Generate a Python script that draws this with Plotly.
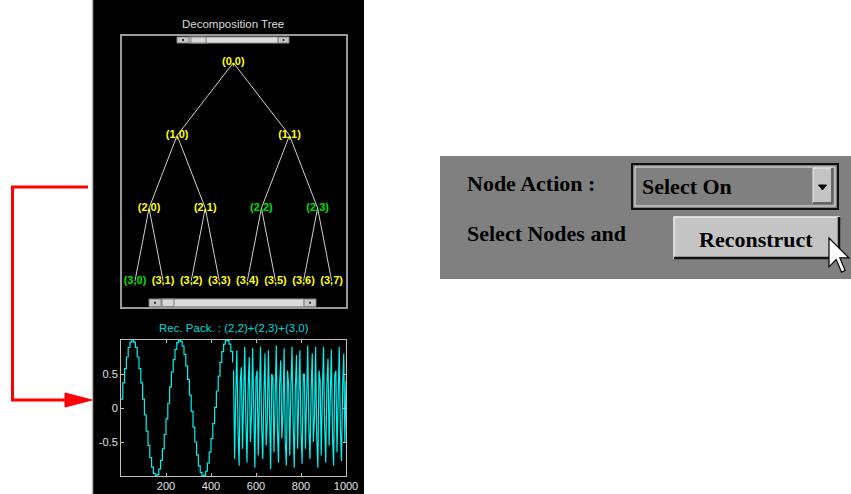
import plotly.graph_objects as go

W, H = 851, 494

# ---- data ----
depth = 3
selected_nodes = [(2, 2), (2, 3), (3, 0)]
panel_title = "Decomposition Tree"
rec_title = "Rec. Pack. : (2,2)+(2,3)+(3,0)"

# low frequency part (blocks of 8 samples)
low_x = list(range(0, 504, 8))
low_y = [0.13, 0.37, 0.58, 0.75, 0.89, 0.97, 1.0, 0.97, 0.89, 0.75, 0.58, 0.37,
         0.13, -0.1, -0.34, -0.55, -0.73, -0.87, -0.96, -1.0, -0.98, -0.9,
         -0.77, -0.6, -0.39, -0.16, 0.07, 0.31, 0.53, 0.71, 0.86, 0.96, 1.0,
         0.98, 0.91, 0.79, 0.62, 0.42, 0.19, -0.05, -0.28, -0.5, -0.69, -0.85,
         -0.95, -1.0, -0.99, -0.93, -0.81, -0.65, -0.45, -0.23, 0.01, 0.25,
         0.47, 0.67, 0.83, 0.94, 0.99, 0.99, 0.94, 0.83, 0.67]

# high frequency part
high_x = list(range(500, 1005, 5))
high_y = [0.55, -0.75, 0.2, 0.85, -0.3, -0.85, 0.4, 0.6, -0.6, 0.1, 0.9, -0.2,
          -0.8, 0.3, 0.75, -0.5, -0.1, 0.88, -0.35, -0.88, 0.45, 0.55, -0.7,
          0.05, 0.9, -0.25, -0.75, 0.2, 0.8, -0.55, -0.2, 0.85, -0.4, -0.9,
          0.5, 0.45, -0.65, 0.15, 0.92, -0.3, -0.8, 0.35, 0.7, -0.45, -0.05,
          0.88, -0.5, -0.85, 0.55, 0.35, -0.7, 0.25, 0.9, -0.2, -0.88, 0.3,
          0.78, -0.6, 0.0, 0.85, -0.35, -0.82, 0.5, 0.5, -0.6, 0.1, 0.92,
          -0.3, -0.75, 0.25, 0.8, -0.5, -0.15, 0.9, -0.45, -0.88, 0.55, 0.4,
          -0.7, 0.2, 0.9, -0.25, -0.8, 0.35, 0.72, -0.55, 0.05, 0.86, -0.4,
          -0.85, 0.48, 0.55, -0.65, 0.15, 0.9, -0.3, -0.78, 0.3, 0.8, -0.5, 0.4]

x_ticks = [200, 400, 600, 800, 1000]
y_ticks = [-0.5, 0, 0.5]
y_ticktext = ["-0.5", "0", "0.5"]


def px(x):
    return x / W


def py(y):
    return 1 - y / H


def rect(x0, y0, x1, y1, fill=None, line="rgba(0,0,0,0)", lw=1, layer="above"):
    return dict(type="rect", xref="paper", yref="paper", layer=layer,
                x0=px(x0), y0=py(y1), x1=px(x1), y1=py(y0),
                fillcolor=fill if fill else "rgba(0,0,0,0)",
                line=dict(color=line, width=lw))


def seg(x0, y0, x1, y1, color, lw=1):
    return dict(type="line", xref="paper", yref="paper",
                x0=px(x0), y0=py(y0), x1=px(x1), y1=py(y1),
                line=dict(color=color, width=lw))


def poly(points, fill, line, lw=1):
    p = "M " + " L ".join("%f,%f" % (px(a), py(b)) for a, b in points) + " Z"
    return dict(type="path", xref="paper", yref="paper", path=p,
                fillcolor=fill, line=dict(color=line, width=lw))


# ---- tree layout from structure ----
def node_x(d, k):
    span = 2 ** (depth - d)
    return (span * (2 * k + 1) - 1) / 2


edge_x, edge_y = [], []
lab_x, lab_y, lab_t, lab_c = [], [], [], []
for d in range(depth + 1):
    for k in range(2 ** d):
        lab_x.append(node_x(d, k))
        lab_y.append(d)
        lab_t.append("<b>(%d,%d)</b>" % (d, k))
        lab_c.append("#00e000" if (d, k) in selected_nodes else "#ffff00")
        if d < depth:
            for c in (2 * k, 2 * k + 1):
                edge_x += [node_x(d, k), node_x(d + 1, c), None]
                edge_y += [d, d + 1, None]

fig = go.Figure()
fig.add_trace(go.Scatter(x=edge_x, y=edge_y, mode="lines",
                         line=dict(color="#d0d0d0", width=1),
                         xaxis="x2", yaxis="y2", hoverinfo="skip"))
fig.add_trace(go.Scatter(x=lab_x, y=lab_y, mode="text", text=lab_t,
                         textfont=dict(family="Liberation Sans", size=11, color=lab_c),
                         xaxis="x2", yaxis="y2"))
fig.add_trace(go.Scatter(x=low_x, y=low_y, mode="lines", line_shape="hv",
                         line=dict(color="#00f0f0", width=1.2)))
fig.add_trace(go.Scatter(x=high_x, y=high_y, mode="lines",
                         line=dict(color="#00f0f0", width=1.2)))

shapes = []
# black panel
shapes.append(rect(92, 0, 364, 494, fill="black", layer="below"))
shapes.append(seg(92.5, 0, 92.5, 494, "#b8b8b8", 1.5))


# scrollbars
def scrollbar(y0, y1, b0, b1, t0, t1, r0, r2):
    s = []
    s.append(rect(b1, y0, r0, y1, fill="#dcdcdc", line="#9a9a9a"))
    s.append(rect(b0, y0, b1, y1, fill="#c8c8c8", line="#808080"))
    s.append(rect(t0, y0, t1, y1, fill="#d8d8d8", line="#808080"))
    s.append(rect(r0, y0, r2, y1, fill="#c8c8c8", line="#808080"))
    cy = (y0 + y1) / 2
    cx1 = (b0 + b1) / 2
    cx2 = (r0 + r2) / 2
    s.append(rect(cx1 - 1, cy - 1, cx1 + 1, cy + 1, fill="#303030"))
    s.append(rect(cx2 - 1, cy - 1, cx2 + 1, cy + 1, fill="#303030"))
    return s


shapes += scrollbar(37, 43, 177, 189, 191, 206, 278, 289)
shapes += scrollbar(299, 306.5, 149, 161, 162, 174, 304, 316)

# red arrow
shapes.append(dict(type="path", xref="paper", yref="paper",
                   path="M %f,%f L %f,%f L %f,%f L %f,%f" % (
                       px(88), py(187), px(12.5), py(187), px(12.5), py(400),
                       px(68), py(400)),
                   line=dict(color="#ff0000", width=3)))
shapes.append(poly([(65, 393), (92, 400), (65, 407)], "#ff0000", "#ff0000", 1))

# UI panel
shapes.append(rect(440, 156, 851, 279, fill="#808080"))
# popup menu
shapes.append(rect(632, 164, 838, 209, line="#101010", lw=2))
shapes.append(rect(635, 167, 835, 206, line="#e8e8e8", lw=1))
shapes.append(rect(813, 168, 832, 203, fill="#c4c4c4", line="#f0f0f0", lw=1))
shapes.append(seg(832, 168, 832, 203, "#404040", 1.5))
shapes.append(seg(813, 203, 832, 203, "#404040", 1.5))
shapes.append(poly([(818.5, 185), (826.5, 185), (822.5, 190)], "#000000", "#000000", 1))
# push button
shapes.append(rect(674, 217, 839, 258, fill="#c4c4c4", line="#f0f0f0", lw=1.5))
shapes.append(seg(839, 217, 839, 258, "#101010", 2.5))
shapes.append(seg(674, 258, 839, 258, "#101010", 2.5))
# mouse cursor
s = 1.8
cur = [(0, 0), (0, 16), (4, 12), (7, 19), (9, 18), (6, 11), (11, 11)]
shapes.append(poly([(829 + a * s, 238 + b * s) for a, b in cur], "#ffffff", "#000000", 1.2))

ann = []
ann.append(dict(x=px(233), y=py(24), text=panel_title, xanchor="center",
                font=dict(family="Liberation Sans", size=11.5, color="#d8d8d8")))
ann.append(dict(x=px(233.5), y=py(328), text=rec_title, xanchor="center",
                font=dict(family="Liberation Sans", size=11.5, color="#00d8d8")))
serif = dict(family="Liberation Serif", size=22, color="#000000")
ann.append(dict(x=px(465), y=py(184), text="<b>Node Action :</b>",
                xanchor="left", font=serif))
ann.append(dict(x=px(465), y=py(233), text="<b>Select Nodes and</b>",
                xanchor="left", font=serif))
ann.append(dict(x=px(640), y=py(187), text="<b>Select On</b>",
                xanchor="left", font=serif))
ann.append(dict(x=px(756), y=py(239), text="<b>Reconstruct</b>",
                xanchor="center", font=serif))
for a in ann:
    a["xref"] = "paper"
    a["yref"] = "paper"
    a["yanchor"] = "middle"
    a["showarrow"] = False

axis_font = dict(family="Liberation Sans", size=11, color="#e0e0e0")
fig.update_layout(
    width=W, height=H, margin=dict(l=0, r=0, t=0, b=0, autoexpand=False),
    paper_bgcolor="white", plot_bgcolor="black", showlegend=False,
    shapes=shapes, annotations=ann,
    xaxis=dict(domain=[px(121), px(346)], range=[0, 1000], tickvals=x_ticks,
               showgrid=False, zeroline=False, showline=True, linecolor="#c0c0c0",
               linewidth=1, mirror="ticks", ticks="inside", ticklen=3,
               tickcolor="#c0c0c0", tickfont=axis_font, automargin=False),
    yaxis=dict(domain=[py(476), py(340)], range=[-1, 1], tickvals=y_ticks,
               ticktext=y_ticktext, showgrid=False, zeroline=False, showline=True,
               linecolor="#c0c0c0", linewidth=1, mirror="ticks", ticks="inside",
               ticklen=3, tickcolor="#c0c0c0", tickfont=axis_font, automargin=False),
    xaxis2=dict(domain=[px(122), px(346)], range=[-0.463, 7.51], anchor="y2",
                showgrid=False, zeroline=False, showticklabels=False, ticks="",
                showline=True, mirror=True, linecolor="#9a9a9a", linewidth=1.5,
                automargin=False),
    yaxis2=dict(domain=[py(307), py(36)], range=[3.36, -0.367], anchor="x2",
                showgrid=False, zeroline=False, showticklabels=False, ticks="",
                showline=True, mirror=True, linecolor="#9a9a9a", linewidth=1.5,
                automargin=False),
)

fig.write_html(
    "out.html",
    config={"displayModeBar": False},
    post_script="document.body.style.margin='0';"
                "document.body.style.overflow='hidden';"
                "document.documentElement.style.overflow='hidden';",
)
